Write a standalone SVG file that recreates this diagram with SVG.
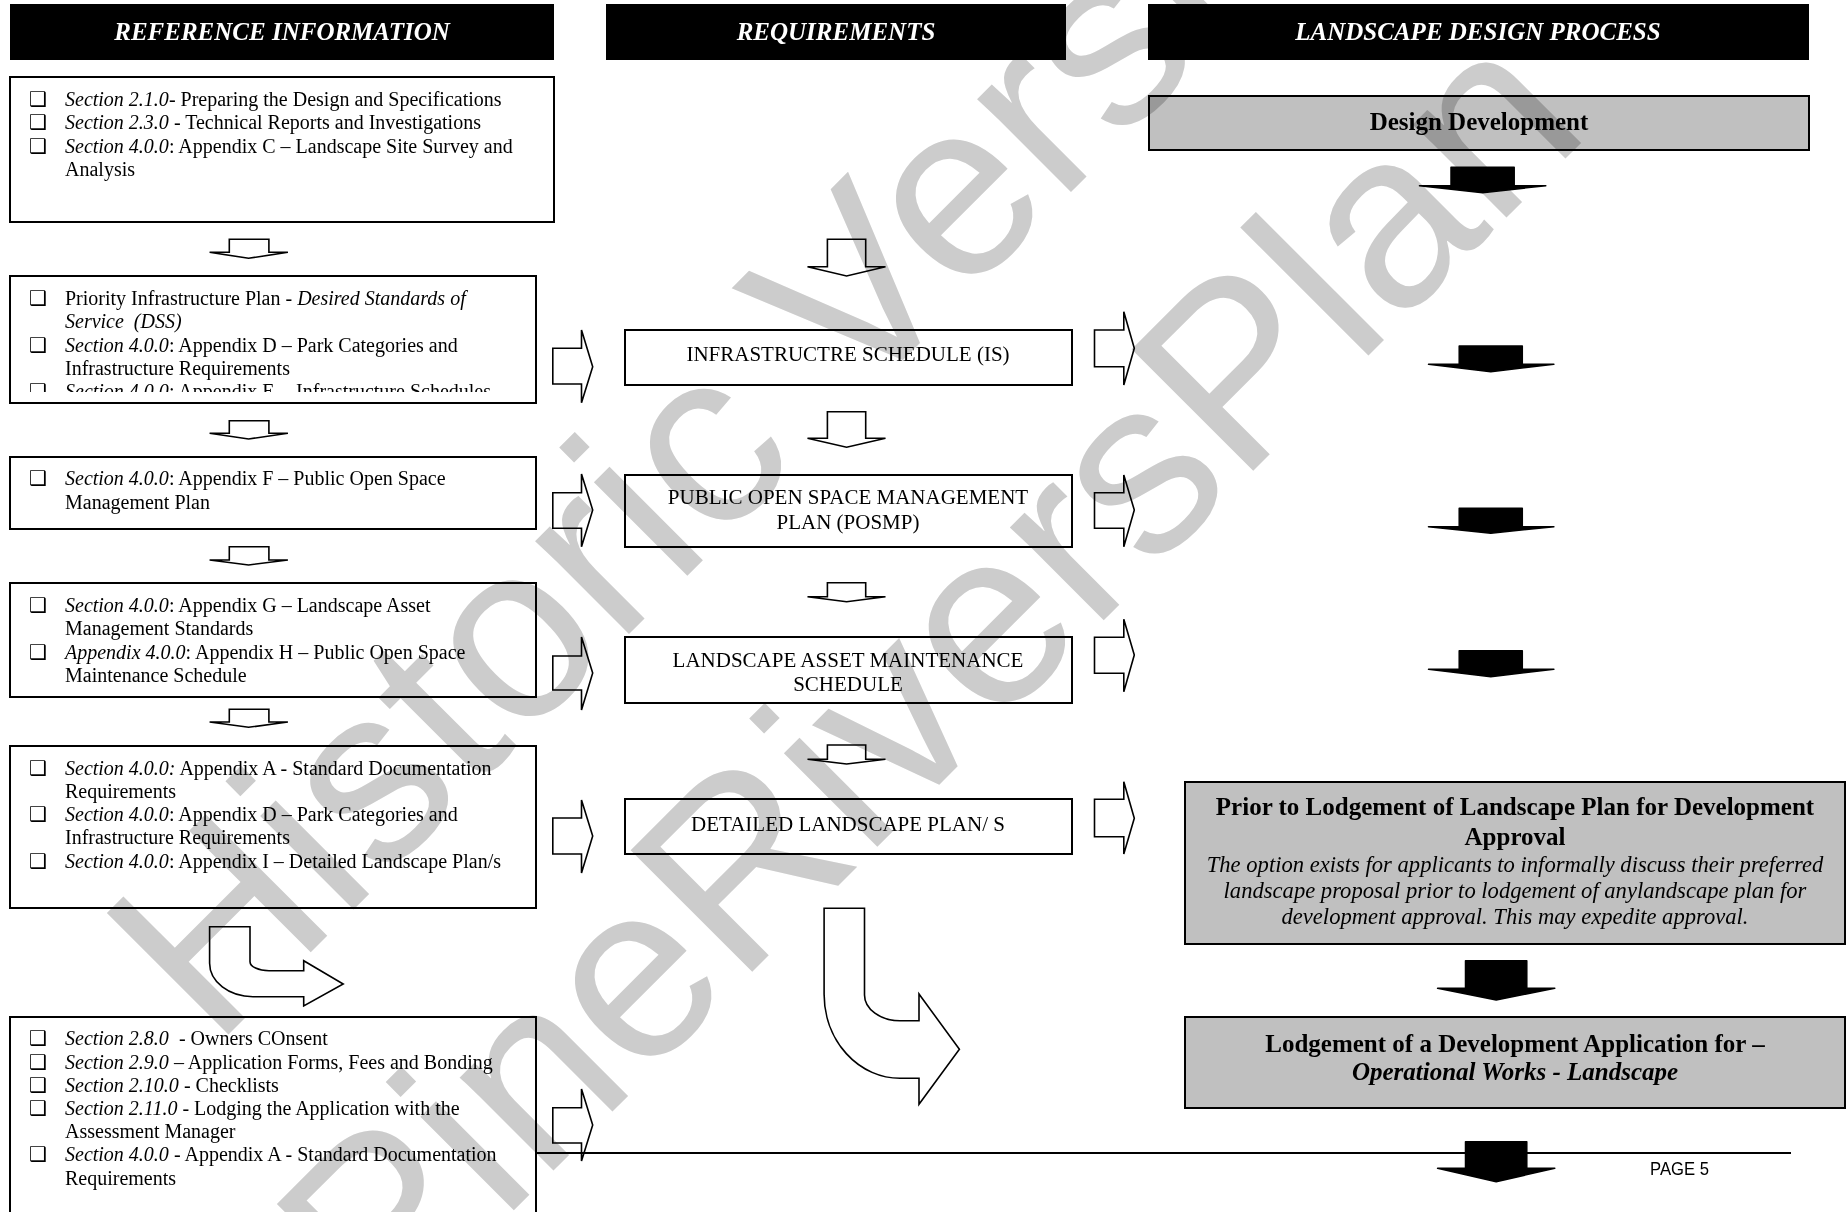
<svg xmlns="http://www.w3.org/2000/svg" width="1847" height="1212" viewBox="0 0 1847 1212">
<style>
text{font-family:"Liberation Serif","Times New Roman",serif;fill:#000}
.hd{font-size:25px;font-weight:bold;font-style:italic;fill:#fff;text-anchor:middle}
.bx{fill:#fff;stroke:#000;stroke-width:2}
.gb{fill:#c0c0c0;stroke:#000;stroke-width:2}
.b{font-size:20px}
.it{font-style:italic}
.c2{font-size:21px;text-anchor:middle}
.bold{font-size:25px;font-weight:bold;text-anchor:middle}
.desc{font-size:22.6px;font-style:italic;text-anchor:middle}
.bul{font-family:"DejaVu Sans",sans-serif;font-size:20px}
.ha{fill:#fff;stroke:#000;stroke-width:1.6;stroke-linejoin:miter}
.fa{fill:#000;stroke:#000;stroke-width:1.5;stroke-linejoin:round}
.wm{font-family:"Liberation Sans",Arial,sans-serif;font-size:250px;fill:#cccccc}
.pg{font-family:"Liberation Sans",Arial,sans-serif;font-size:18px}
</style>
<defs>
<clipPath id="clip2"><rect x="10" y="276" width="526" height="116"/></clipPath>
</defs>

<g id="headers">
<rect x="10" y="4" width="544" height="56" fill="#000"/>
<text class="hd" x="282" y="40">REFERENCE INFORMATION</text>
<rect x="606" y="4" width="460" height="56" fill="#000"/>
<text class="hd" x="836" y="40">REQUIREMENTS</text>
<rect x="1148" y="4" width="661" height="56" fill="#000"/>
<text class="hd" x="1478" y="40">LANDSCAPE DESIGN PROCESS</text>
</g>

<g id="ref1">
<rect class="bx" x="10" y="77" width="544" height="145"/>
<text class="bul" x="29" y="106">❑</text>
<text class="b" x="65" y="106"><tspan class="it">Section 2.1.0</tspan>- Preparing the Design and Specifications</text>
<text class="bul" x="29" y="129">❑</text>
<text class="b" x="65" y="129"><tspan class="it">Section 2.3.0</tspan> - Technical Reports and Investigations</text>
<text class="bul" x="29" y="153">❑</text>
<text class="b" x="65" y="153"><tspan class="it">Section 4.0.0</tspan>: Appendix C – Landscape Site Survey and</text>
<text class="b" x="65" y="176">Analysis</text>
</g>

<g id="ref2">
<rect class="bx" x="10" y="276" width="526" height="127"/>
<g clip-path="url(#clip2)">
<text class="bul" x="29" y="305">❑</text>
<text class="b" x="65" y="305">Priority Infrastructure Plan - <tspan class="it">Desired Standards of</tspan></text>
<text class="b it" x="65" y="328">Service &#160;(DSS)</text>
<text class="bul" x="29" y="352">❑</text>
<text class="b" x="65" y="352"><tspan class="it">Section 4.0.0</tspan>: Appendix D – Park Categories and</text>
<text class="b" x="65" y="375">Infrastructure Requirements</text>
<text class="bul" x="29" y="398">❑</text>
<text class="b" x="65" y="398"><tspan class="it">Section 4.0.0</tspan>: Appendix E &#160;- Infrastructure Schedules</text>
</g>
</g>

<g id="ref3">
<rect class="bx" x="10" y="457" width="526" height="72"/>
<text class="bul" x="29" y="485">❑</text>
<text class="b" x="65" y="485"><tspan class="it">Section 4.0.0</tspan>: Appendix F – Public Open Space</text>
<text class="b" x="65" y="509">Management Plan</text>
</g>

<g id="ref4">
<rect class="bx" x="10" y="583" width="526" height="114"/>
<text class="bul" x="29" y="612">❑</text>
<text class="b" x="65" y="612"><tspan class="it">Section 4.0.0</tspan>: Appendix G – Landscape Asset</text>
<text class="b" x="65" y="635">Management Standards</text>
<text class="bul" x="29" y="659">❑</text>
<text class="b" x="65" y="659"><tspan class="it">Appendix 4.0.0</tspan>: Appendix H – Public Open Space</text>
<text class="b" x="65" y="682">Maintenance Schedule</text>
</g>

<g id="ref5">
<rect class="bx" x="10" y="746" width="526" height="162"/>
<text class="bul" x="29" y="775">❑</text>
<text class="b" x="65" y="775"><tspan class="it">Section 4.0.0:</tspan> Appendix A - Standard Documentation</text>
<text class="b" x="65" y="798">Requirements</text>
<text class="bul" x="29" y="821">❑</text>
<text class="b" x="65" y="821"><tspan class="it">Section 4.0.0</tspan>: Appendix D – Park Categories and</text>
<text class="b" x="65" y="844">Infrastructure Requirements</text>
<text class="bul" x="29" y="868">❑</text>
<text class="b" x="65" y="868"><tspan class="it">Section 4.0.0</tspan>: Appendix I – Detailed Landscape Plan/s</text>
</g>

<g id="ref6">
<rect class="bx" x="10" y="1017" width="526" height="220"/>
<text class="bul" x="29" y="1045">❑</text>
<text class="b" x="65" y="1045"><tspan class="it">Section 2.8.0</tspan> &#160;- Owners COnsent</text>
<text class="bul" x="29" y="1069">❑</text>
<text class="b" x="65" y="1069"><tspan class="it">Section 2.9.0</tspan> – Application Forms, Fees and Bonding</text>
<text class="bul" x="29" y="1092">❑</text>
<text class="b" x="65" y="1092"><tspan class="it">Section 2.10.0</tspan> - Checklists</text>
<text class="bul" x="29" y="1115">❑</text>
<text class="b" x="65" y="1115"><tspan class="it">Section 2.11.0</tspan> - Lodging the Application with the</text>
<text class="b" x="65" y="1138">Assessment Manager</text>
<text class="bul" x="29" y="1161">❑</text>
<text class="b" x="65" y="1161"><tspan class="it">Section 4.0.0</tspan> - Appendix A - Standard Documentation</text>
<text class="b" x="65" y="1185">Requirements</text>
</g>

<g id="req-is">
<rect class="bx" x="625" y="330" width="447" height="55"/>
<text class="c2" x="848" y="361">INFRASTRUCTRE SCHEDULE (IS)</text>
</g>
<g id="req-posmp">
<rect class="bx" x="625" y="475" width="447" height="72"/>
<text class="c2" x="848" y="504">PUBLIC OPEN SPACE MANAGEMENT</text>
<text class="c2" x="848" y="529">PLAN (POSMP)</text>
</g>
<g id="req-lams">
<rect class="bx" x="625" y="637" width="447" height="66"/>
<text class="c2" x="848" y="667">LANDSCAPE ASSET MAINTENANCE</text>
<text class="c2" x="848" y="691">SCHEDULE</text>
</g>
<g id="req-dlp">
<rect class="bx" x="625" y="799" width="447" height="55"/>
<text class="c2" x="848" y="831">DETAILED LANDSCAPE PLAN/ S</text>
</g>

<g id="ldp-design">
<rect class="gb" x="1149" y="96" width="660" height="54"/>
<text class="bold" x="1479" y="130">Design Development</text>
</g>
<g id="ldp-prior">
<rect class="gb" x="1185" y="782" width="660" height="162"/>
<text class="bold" x="1515" y="815">Prior to Lodgement of Landscape Plan for Development</text>
<text class="bold" x="1515" y="845">Approval</text>
<text class="desc" x="1515" y="872">The option exists for applicants to informally discuss their preferred</text>
<text class="desc" x="1515" y="898">landscape proposal prior to lodgement of anylandscape plan for</text>
<text class="desc" x="1515" y="924">development approval. This may expedite approval.</text>
</g>
<g id="ldp-lodge">
<rect class="gb" x="1185" y="1017" width="660" height="91"/>
<text class="bold" x="1515" y="1052">Lodgement of a Development Application for –</text>
<text class="bold" x="1515" y="1080" font-style="italic">Operational Works - Landscape</text>
</g>

<g id="connectors">
<polygon class="ha" points="229.3,239.3 268.9,239.3 268.9,252.3 287.9,252.3 248.6,258.3 209.6,252.3 229.3,252.3"/>
<polygon class="ha" points="229.3,420.7 268.9,420.7 268.9,433.3 287.9,433.3 248.6,439 209.6,433.3 229.3,433.3"/>
<polygon class="ha" points="229.3,546.7 268.9,546.7 268.9,560 287.9,560 248.6,565 209.6,560 229.3,560"/>
<polygon class="ha" points="229.3,709.3 268.9,709.3 268.9,722 287.9,722 248.6,727.3 209.6,722 229.3,722"/>
<path class="ha" d="M209.6,926.7 L250,926.7 L250,961.7 A19 9 0 0 0 269,970.7 L303.7,970.7 L303.7,960.7 L343.2,984 L303.7,1006 L303.7,996.7 L253,996.7 A43.4 33.4 0 0 1 209.6,963.3 Z"/>
<polygon class="ha" points="552.8,348.3 581.5,348.3 581.5,330 592.7,366.7 581.5,402.7 581.5,384 552.8,384"/>
<polygon class="ha" points="552.8,492.7 581.5,492.7 581.5,474 592.7,510 581.5,546.7 581.5,528.3 552.8,528.3"/>
<polygon class="ha" points="552.8,656 581.5,656 581.5,637 592.7,673 581.5,710 581.5,690 552.8,690"/>
<polygon class="ha" points="552.8,818 581.5,818 581.5,800 592.7,836 581.5,873 581.5,854 552.8,854"/>
<polygon class="ha" points="552.8,1107.7 581.5,1107.7 581.5,1089 592.7,1125 581.5,1161 581.5,1143 552.8,1143"/>
<polygon class="ha" points="827.4,239.3 865.7,239.3 865.7,266.7 885.5,266.7 846.6,276 807.5,266.7 827.4,266.7"/>
<polygon class="ha" points="827.4,411.7 865.7,411.7 865.7,438.3 885.5,438.3 846.6,447.3 807.5,438.3 827.4,438.3"/>
<polygon class="ha" points="827.4,582.7 865.7,582.7 865.7,596.7 885.5,596.7 846.6,601.7 807.5,596.7 827.4,596.7"/>
<polygon class="ha" points="827.4,745 865.7,745 865.7,759.3 885.5,759.3 846.6,764 807.5,759.3 827.4,759.3"/>
<path class="ha" d="M824.1,908.3 L864.5,908.3 L864.5,995 A35.5 25.7 0 0 0 900,1020.7 L919,1020.7 L919,994 L959.4,1049.3 L919,1104.3 L919,1078.3 L900,1078.3 A76 84 0 0 1 824.1,994.3 Z"/>
<polygon class="ha" points="1094.5,330 1123.8,330 1123.8,311.7 1134.3,348.3 1123.8,385 1123.8,366.7 1094.5,366.7"/>
<polygon class="ha" points="1094.5,492.7 1123.8,492.7 1123.8,475 1134.3,510 1123.8,546.7 1123.8,528.3 1094.5,528.3"/>
<polygon class="ha" points="1094.5,637.3 1123.8,637.3 1123.8,619.3 1134.3,655 1123.8,691.7 1123.8,673.3 1094.5,673.3"/>
<polygon class="ha" points="1094.5,799.3 1123.8,799.3 1123.8,781.7 1134.3,818.3 1123.8,854 1123.8,836.7 1094.5,836.7"/>
<polygon class="fa" points="1451,167.3 1514.2,167.3 1514.2,185.7 1545.8,185.7 1482.6,192.7 1419.5,185.7 1451,185.7"/>
<polygon class="fa" points="1459.2,346 1522.3,346 1522.3,364.3 1553.9,364.3 1490.8,371.7 1428.5,364.3 1459.2,364.3"/>
<polygon class="fa" points="1459.2,508.3 1522.3,508.3 1522.3,526.7 1553.9,526.7 1490.8,533.3 1428.5,526.7 1459.2,526.7"/>
<polygon class="fa" points="1459.2,650.7 1522.3,650.7 1522.3,669.3 1553.9,669.3 1490.8,676.7 1428.5,669.3 1459.2,669.3"/>
<polygon class="fa" points="1465.5,960.7 1526.8,960.7 1526.8,988.3 1554.8,988.3 1496.2,1000 1437.6,988.3 1465.5,988.3"/>
<polygon class="fa" points="1465.5,1141.7 1526.8,1141.7 1526.8,1168.3 1554.8,1168.3 1496.2,1181.7 1437.6,1168.3 1465.5,1168.3"/>
</g>

<g id="footer">
<line x1="536" y1="1153" x2="1791" y2="1153" stroke="#000" stroke-width="2"/>
<text class="pg" x="1650" y="1175" textLength="59" lengthAdjust="spacingAndGlyphs">PAGE 5</text>
</g>

<g id="watermark" style="mix-blend-mode:multiply">
<text class="wm" transform="translate(214,1049) rotate(-45)">Historic Version</text>
<text class="wm" transform="translate(384,1340) rotate(-45)">PineRiversPlan</text>
</g>
</svg>
